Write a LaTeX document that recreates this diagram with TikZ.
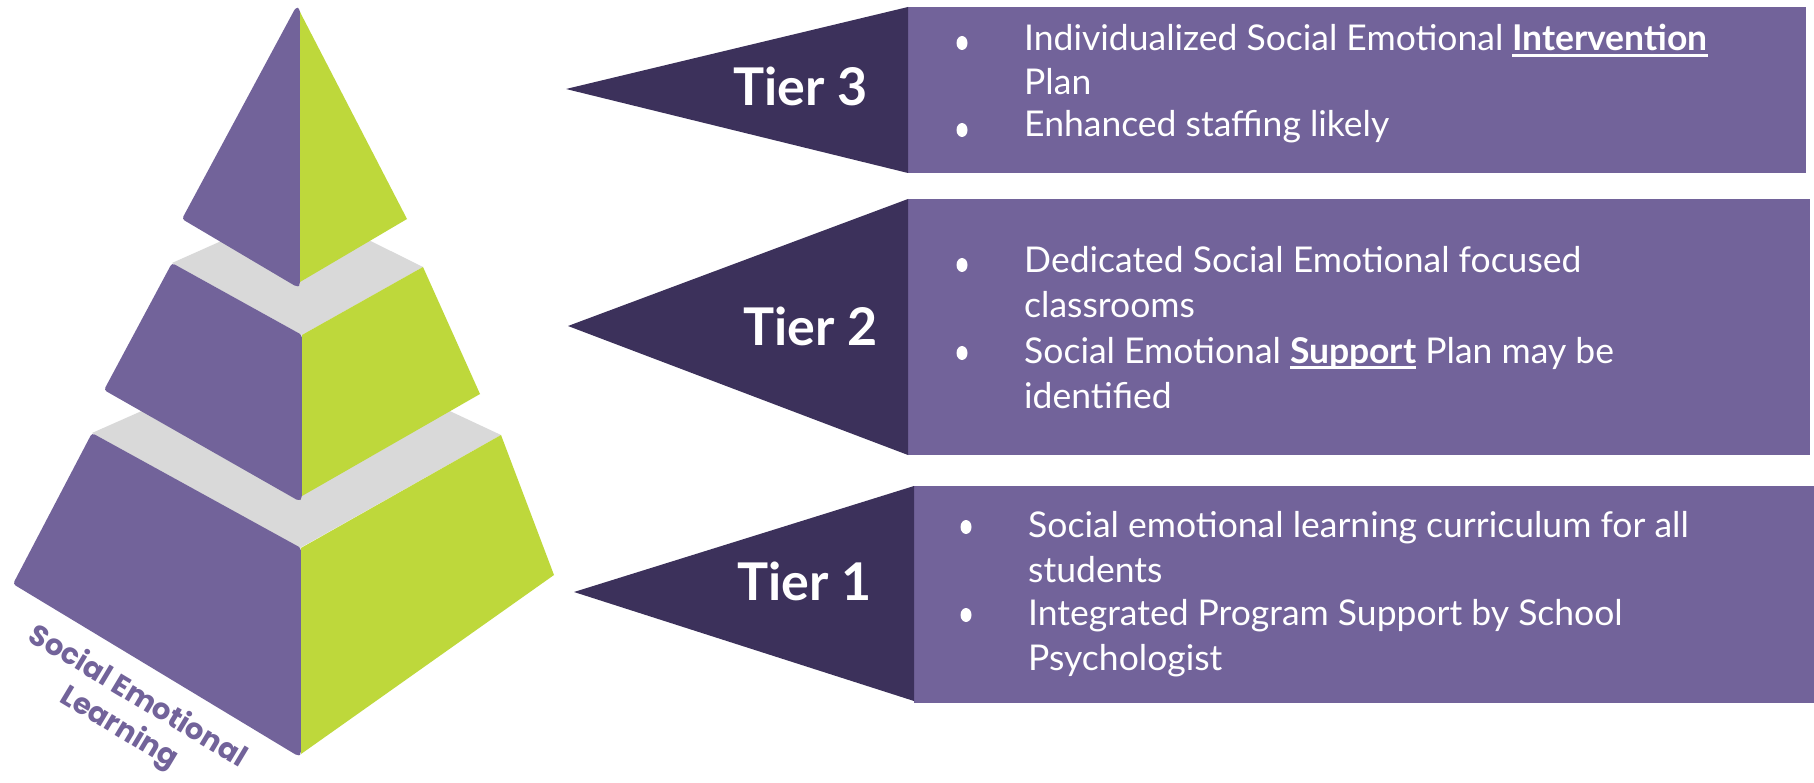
\documentclass[tikz,border=0pt]{standalone}
\usepackage{fontspec}
\setmainfont{Lato}
\newfontfamily\popfont{Poppins}
\definecolor{semP}{RGB}{114,99,154}
\definecolor{semD}{RGB}{60,49,91}
\definecolor{semG}{RGB}{190,216,59}
\definecolor{semY}{RGB}{217,217,217}
\newcommand\myul[1]{\setbox0\hbox{#1}\rlap{\vrule width\wd0 height -3pt depth 6pt}\box0\relax}
\tikzset{
  body/.style={font=\fontsize{35.5}{42}\selectfont, text=white, inner sep=0pt, anchor=base west},
  tier/.style={font=\fontsize{52}{60}\selectfont\bfseries, text=white, inner sep=0pt, anchor=base east},
  bul/.style={ellipse, fill=white, minimum width=11pt, minimum height=14pt, inner sep=0pt},
}
\usetikzlibrary{shapes.geometric}
\begin{document}
\begin{tikzpicture}[x=1pt,y=-1pt]
\useasboundingbox (0,0) rectangle (1814,783);
\fill[white] (0,0) rectangle (1814,783);
% pyramid bottom
\fill[semY] (92,433) -- (300,341) -- (501,435) -- (300,548) -- cycle;
\fill[semP, rounded corners=3pt] (92,433) -- (13,584) -- (298,756) -- (301,754) -- (301,548) -- cycle;
\fill[semG] (301,548) -- (501,435) -- (554,575) -- (301,754) -- cycle;
% middle
\fill[semY] (172,263) -- (300,206) -- (423,267) -- (302,335) -- cycle;
\fill[semP, rounded corners=3pt] (172,263) -- (104,390) -- (299,501) -- (302,498) -- (302,335) -- cycle;
\fill[semG] (302,335) -- (423,267) -- (480,394) -- (302,496) -- cycle;
% top
\fill[semP, rounded corners=3pt] (296,7) -- (182,219) -- (297,287) -- (300,285) -- (300,9) -- cycle;
\fill[semG] (300,12) -- (407,219) -- (300,282) -- cycle;
\node[font=\popfont\bfseries\fontsize{29}{36}\selectfont, text=semP, rotate=-31, align=center, inner sep=0pt] (sel) at (128,713) {Social Emotional\\Learning};

% Tier 3
\fill[semP] (908,7) rectangle (1806,173);
\fill[semD] (566,89) -- (908,7) -- (908,173) -- cycle;
\node[tier] (t3) at (868,106) {Tier 3};
\node[bul] (b31) at (962,43) {};
\node[body] (l31) at (1024,51) {Individualized Social Emotional \myul{\textbf{Intervention}}};
\node[body] (l32) at (1024,95) {Plan};
\node[bul] (b32) at (962,130) {};
\node[body] (l33) at (1024,137) {Enhanced staffing likely};

% Tier 2
\fill[semP] (908,199) rectangle (1810,455);
\fill[semD] (568,326) -- (908,199) -- (908,455) -- cycle;
\node[tier] (t2) at (878,345) {Tier 2};
\node[bul] (b21) at (962,265) {};
\node[body] (l21) at (1024,273) {Dedicated Social Emotional focused};
\node[body] (l22) at (1024,318) {classrooms};
\node[bul] (b22) at (962,353) {};
\node[body] (l23) at (1024,363) {Social Emotional \myul{\textbf{Support}} Plan may be};
\node[body] (l24) at (1024,408) {identified};

% Tier 1
\fill[semP] (914,486) rectangle (1814,703);
\fill[semD] (574,592) -- (914,486) -- (914,701) -- cycle;
\node[tier] (t1) at (872,600) {Tier 1};
\node[bul] (b11) at (966,527) {};
\node[body] (l11) at (1028,537) {Social emotional learning curriculum for all};
\node[body] (l12) at (1028,582) {students};
\node[bul] (b12) at (966,615) {};
\node[body] (l13) at (1028,625) {Integrated Program Support by School};
\node[body] (l14) at (1028,670) {Psychologist};
\end{tikzpicture}
\end{document}
